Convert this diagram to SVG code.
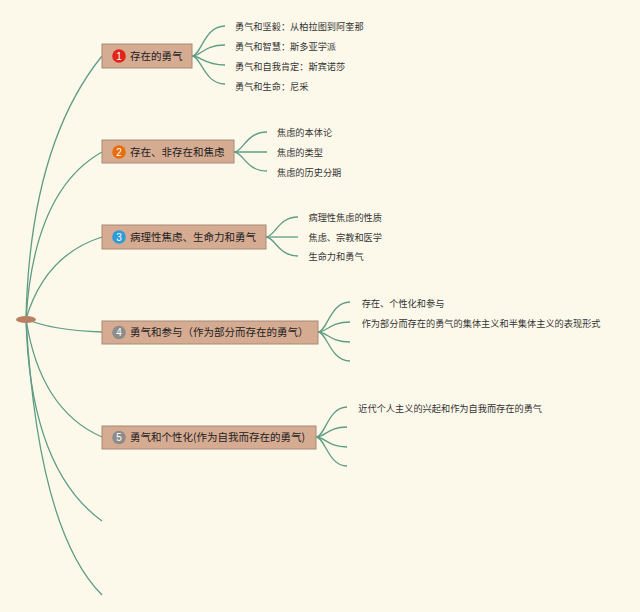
<svg xmlns="http://www.w3.org/2000/svg" width="640" height="612" viewBox="0 0 640 612">
<style>
.bg{fill:#fdf9ea}
.c{fill:none;stroke:#5e9c86;stroke-width:1.3}
.box{fill:#d5ab92;stroke:#a88a78;stroke-width:1}
.t{font-family:"Noto Sans CJK SC","Noto Sans",sans-serif;font-size:10.5px;fill:#222}
.s{font-family:"Noto Sans CJK SC","Noto Sans",sans-serif;font-size:9.2px;fill:#333}
.n{font-family:"Liberation Sans","Noto Sans",sans-serif;font-size:10px;fill:#fff;text-anchor:middle}
</style>
<rect class="bg" x="0" y="0" width="640" height="612"/>
<g id="connectors">
<path class="c" d="M26,319 Q30,145 102,56"/>
<path class="c" d="M26,319 Q34,190 102,152"/>
<path class="c" d="M26,319 Q45,255 102,237"/>
<path class="c" d="M26,319 Q50,330 102,332"/>
<path class="c" d="M26,319 Q40,410 102,437"/>
<path class="c" d="M26,319 Q30,469 102,521"/>
<path class="c" d="M26,319 Q38,531 102,595"/>
<path class="c" d="M192,56 C201,56 204,26 225,26"/>
<path class="c" d="M192,56 C201,56 204,45 225,45"/>
<path class="c" d="M192,56 C201,56 204,65 225,65"/>
<path class="c" d="M192,56 C201,56 204,84 225,84"/>
<path class="c" d="M234,152 C243,152 246,132 267,132"/>
<path class="c" d="M234,152 C243,152 246,152 267,152"/>
<path class="c" d="M234,152 C243,152 246,171 267,171"/>
<path class="c" d="M266,237 C275,237 278,217 298,217"/>
<path class="c" d="M266,237 C275,237 278,237 298,237"/>
<path class="c" d="M266,237 C275,237 278,256 298,256"/>
<path class="c" d="M318,332 C327,332 330,302 350,302"/>
<path class="c" d="M318,332 C327,332 330,322 350,322"/>
<path class="c" d="M318,332 C327,332 330,342 350,342"/>
<path class="c" d="M318,332 C327,332 330,361 350,361"/>
<path class="c" d="M316,437 C325,437 328,407 347,407"/>
<path class="c" d="M316,437 C325,437 328,427 347,427"/>
<path class="c" d="M316,437 C325,437 328,447 347,447"/>
<path class="c" d="M316,437 C325,437 328,466 347,466"/>
</g>
<g id="root">
<ellipse cx="26" cy="319.5" rx="10" ry="3.6" fill="#b97f63"/>
</g>
<g id="node1">
<rect class="box" x="102" y="44" width="90" height="24"/>
<circle cx="119" cy="56" r="6.8" fill="#e2231a"/>
<text class="n" x="119" y="59.6">1</text>
<text class="t" x="130" y="59.8">存在的勇气</text>
</g>
<g id="node1-children">
<text class="s" x="235" y="30">勇气和坚毅：从柏拉图到阿奎那</text>
<text class="s" x="235" y="50">勇气和智慧：斯多亚学派</text>
<text class="s" x="235" y="70">勇气和自我肯定：斯宾诺莎</text>
<text class="s" x="235" y="89.5">勇气和生命：尼采</text>
</g>
<g id="node2">
<rect class="box" x="102" y="140" width="132" height="23"/>
<circle cx="119" cy="152" r="6.8" fill="#ea6d0c"/>
<text class="n" x="119" y="155.6">2</text>
<text class="t" x="130" y="155.5">存在、非存在和焦虑</text>
</g>
<g id="node2-children">
<text class="s" x="277" y="135.6">焦虑的本体论</text>
<text class="s" x="277" y="155.6">焦虑的类型</text>
<text class="s" x="277" y="175.6">焦虑的历史分期</text>
</g>
<g id="node3">
<rect class="box" x="102" y="225" width="164" height="24"/>
<circle cx="119" cy="237" r="6.8" fill="#2d9ad9"/>
<text class="n" x="119" y="240.6">3</text>
<text class="t" x="130" y="240.8">病理性焦虑、生命力和勇气</text>
</g>
<g id="node3-children">
<text class="s" x="308.5" y="221">病理性焦虑的性质</text>
<text class="s" x="308.5" y="240.6">焦虑、宗教和医学</text>
<text class="s" x="308.5" y="260">生命力和勇气</text>
</g>
<g id="node4">
<rect class="box" x="102" y="321" width="216" height="23"/>
<circle cx="119" cy="332.5" r="6.8" fill="#8c8c8c"/>
<text class="n" x="119" y="336.1">4</text>
<text class="t" x="130" y="336.3">勇气和参与（作为部分而存在的勇气）</text>
</g>
<g id="node4-children">
<text class="s" x="361.7" y="306.6">存在、个性化和参与</text>
<text class="s" x="361.7" y="326.6">作为部分而存在的勇气的集体主义和半集体主义的表现形式</text>
</g>
<g id="node5">
<rect class="box" x="102" y="426" width="214" height="23"/>
<circle cx="119" cy="437.5" r="6.8" fill="#8c8c8c"/>
<text class="n" x="119" y="441.1">5</text>
<text class="t" x="130" y="441.3" textLength="175" lengthAdjust="spacing">勇气和个性化(作为自我而存在的勇气)</text>
</g>
<g id="node5-children">
<text class="s" x="358.3" y="411.6">近代个人主义的兴起和作为自我而存在的勇气</text>
</g>
</svg>
